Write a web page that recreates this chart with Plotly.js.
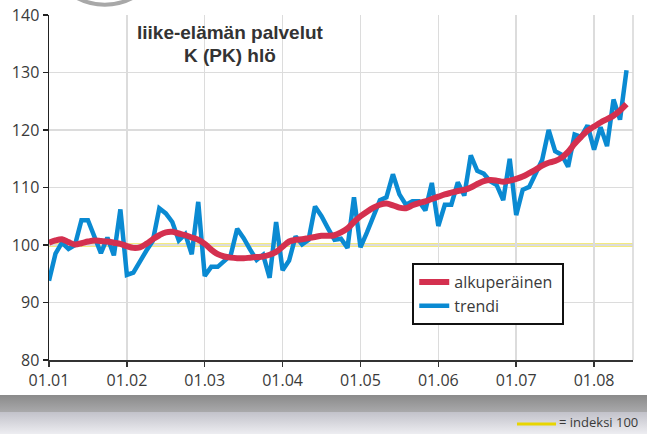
<!DOCTYPE html>
<html>
<head>
<meta charset="utf-8">
<script src="https://cdn.plot.ly/plotly-3.0.1.min.js"></script>
<style>
  html, body { margin: 0; padding: 0; background: #ffffff; }
  #wrap { position: relative; width: 647px; height: 434px; overflow: hidden; background: #ffffff; }
  #band1 { position: absolute; left: 0; top: 395px; width: 647px; height: 17px; background: linear-gradient(#8a8a8a, #a9a9ab); }
  #band2 { position: absolute; left: 0; top: 412px; width: 647px; height: 22px; background: linear-gradient(#c2c2ca, #ededf1); }
  #chart { position: absolute; left: 0; top: 0; width: 647px; height: 434px; }
</style>
</head>
<body>
<div id="wrap">
  <div id="band1"></div>
  <div id="band2"></div>
  <div id="chart"></div>
</div>
<script>
// ---- data ----
const startYear = 2001;
const monthCount = 90; // Jan 2001 .. Jun 2008
const tickLabels = ['01.01', '01.02', '01.03', '01.04', '01.05', '01.06', '01.07', '01.08'];
const trendiName = 'trendi';
const alkuName = 'alkuperäinen';
const indexBase = 100;

const trendiValues = [
  93.8, 98.5, 100.4, 99.3, 100.0, 104.3, 104.3, 101.6, 98.6, 101.3, 98.2, 106.2,
  94.8, 95.2, 97.3, 99.0, 100.7, 106.4, 105.5, 104.0, 100.8, 101.9, 98.4, 107.5,
  94.6, 96.2, 96.2, 97.2, 98.2, 102.8, 101.2, 99.2, 97.4, 98.3, 94.3, 104.0,
  95.6, 97.3, 101.5, 100.1, 100.9, 106.7, 105.0, 102.9, 100.9, 101.1, 99.5, 108.3,
  99.6, 102.2, 104.9, 107.8, 108.3, 112.3, 108.8, 107.0, 107.6, 107.6, 106.0, 110.8,
  103.3, 107.0, 107.0, 110.9, 108.6, 115.6, 112.9, 112.4, 111.1, 110.4, 107.8, 115.0,
  105.2, 109.6, 110.1, 112.3, 114.8, 120.0, 116.3, 115.7, 113.6, 119.2, 118.8, 120.8,
  116.6, 120.5, 117.2, 125.3, 121.8, 130.4
];

const alkuValues = [
  100.4, 100.8, 101.0, 100.5, 100.1, 100.3, 100.6, 100.8, 100.7, 100.6, 100.4, 100.2,
  99.8, 99.5, 99.6, 100.2, 101.0, 101.7, 102.2, 102.3, 102.0, 101.7, 101.3, 100.9,
  100.2, 99.2, 98.4, 98.0, 97.8, 97.7, 97.7, 97.8, 97.9, 98.0, 98.3, 98.8,
  99.7, 100.6, 100.9, 101.0, 101.2, 101.4, 101.6, 101.6, 101.7, 102.2, 102.9, 104.0,
  105.0, 105.8, 106.5, 107.0, 107.2, 106.9, 106.5, 106.4, 106.9, 107.3, 107.6, 108.0,
  108.4, 108.8, 109.1, 109.4, 109.6, 110.0, 110.6, 111.1, 111.3, 111.2, 111.0, 111.2,
  111.5, 111.9, 112.5, 113.1, 113.8, 114.3, 114.6, 115.2, 116.2, 117.6, 118.8, 119.9,
  120.6, 121.3, 121.9, 122.5, 123.4, 124.5
];

// month index positions
const months = [];
for (let i = 0; i < monthCount; i++) months.push(i);
const tickVals = tickLabels.map((_, i) => i * 12);

const baseFamily = '"Open Sans", "Noto Sans", Arial, sans-serif';
const tickFont = { family: baseFamily, size: 16, color: '#3a3a3a' };

const traces = [
  {
    x: months, y: trendiValues, name: trendiName + '\u00a0\u00a0', type: 'scatter', mode: 'lines',
    line: { color: '#0a8ad2', width: 4.5 }
  },
  {
    x: months, y: alkuValues, name: alkuName + '\u00a0', type: 'scatter', mode: 'lines',
    line: { color: '#d4304f', width: 6, shape: 'spline', smoothing: 1 }
  }
];

const layout = {
  width: 647, height: 434,
  margin: { l: 49, r: 14, t: 15, b: 74 },
  paper_bgcolor: 'rgba(0,0,0,0)',
  plot_bgcolor: '#ffffff',
  showlegend: true,
  legend: {
    x: 0.622, y: 0.281, xanchor: 'left', yanchor: 'top',
    bgcolor: '#ffffff', bordercolor: '#111111', borderwidth: 2,
    traceorder: 'reversed',
    font: { family: baseFamily, size: 16, color: '#3a3a3a' },
    itemwidth: 30
  },
  xaxis: {
    range: [0, 90], tickvals: tickVals, ticktext: tickLabels,
    showgrid: true, gridcolor: '#dcdcdc', gridwidth: 1.5,
    showline: true, linecolor: '#333333', linewidth: 1.5,
    ticks: 'outside', ticklen: 5, tickwidth: 1.5, tickcolor: '#333333',
    tickfont: tickFont, zeroline: false, fixedrange: true
  },
  yaxis: {
    range: [80, 140], dtick: 10, tick0: 80,
    showgrid: true, gridcolor: '#dcdcdc', gridwidth: 1.5,
    showline: true, linecolor: '#222222', linewidth: 1.5,
    ticks: 'outside', ticklen: 5, tickwidth: 1.5, tickcolor: '#222222',
    tickfont: tickFont, zeroline: false, fixedrange: true
  },
  shapes: [
    { type: 'line', xref: 'paper', x0: 0, x1: 1, yref: 'y', y0: indexBase, y1: indexBase,
      line: { color: '#e8d500', width: 3 }, layer: 'below' },
    { type: 'line', xref: 'paper', x0: 1, x1: 1, yref: 'paper', y0: 0, y1: 1,
      line: { color: '#d6d6d6', width: 1.5 } },
    { type: 'line', xref: 'paper', x0: 0.8014, x1: 0.8682, yref: 'paper', y0: -0.1855, y1: -0.1855,
      line: { color: '#e8d500', width: 3 } },
    { type: 'circle', xref: 'paper', yref: 'paper', x0: -0.009, x1: 0.2, y0: 1.03, y1: 1.40,
      line: { color: '#a8a8a8', width: 4 }, fillcolor: '#ffffff' }
  ],
  annotations: [
    { text: 'liike-elämän palvelut', xref: 'paper', yref: 'paper', x: 0.31, y: 0.948,
      xanchor: 'center', yanchor: 'middle', showarrow: false,
      font: { family: '"Liberation Sans", Arial, sans-serif', size: 19, color: '#333333', weight: 'bold' } },
    { text: 'K (PK) hlö', xref: 'paper', yref: 'paper', x: 0.31, y: 0.882,
      xanchor: 'center', yanchor: 'middle', showarrow: false,
      font: { family: '"Liberation Sans", Arial, sans-serif', size: 19, color: '#333333', weight: 'bold' } },
    { text: '= indeksi 100', xref: 'paper', yref: 'paper', x: 1.012, y: -0.1797,
      xanchor: 'right', yanchor: 'middle', showarrow: false,
      font: { family: baseFamily, size: 13, color: '#3a3a3a' } }
  ]
};

Plotly.newPlot('chart', traces, layout, { staticPlot: true, displayModeBar: false });
</script>
</body>
</html>
